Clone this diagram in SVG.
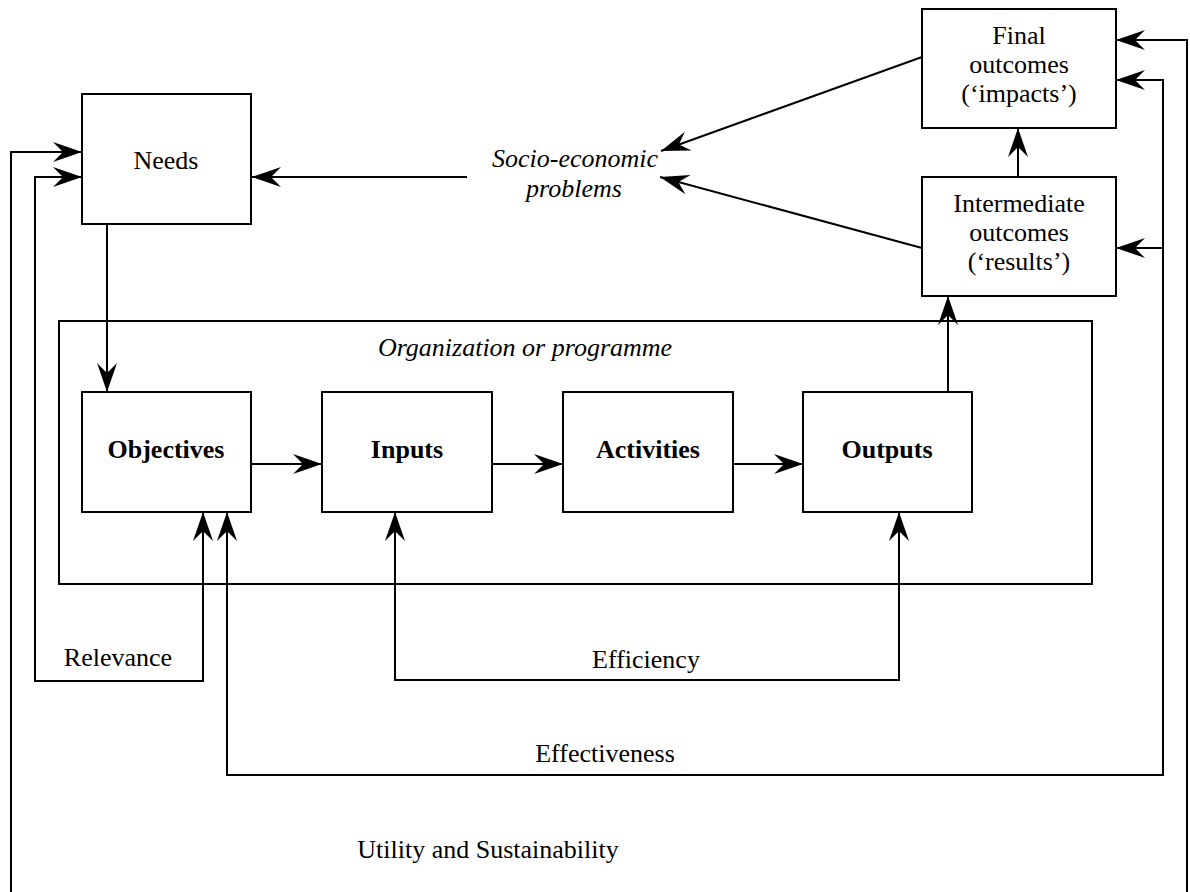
<svg xmlns="http://www.w3.org/2000/svg" width="1190" height="892" viewBox="0 0 1190 892">
<style>
.box{fill:#fff;stroke:#000;stroke-width:2}
.frame{fill:none;stroke:#000;stroke-width:2}
.ln{fill:none;stroke:#000;stroke-width:2}
.t{font-family:"Liberation Serif","Times New Roman",serif;font-size:26px;fill:#000;text-anchor:middle}
.b{font-weight:bold}
.i{font-style:italic}
</style>
<defs>
<marker id="ah" markerUnits="userSpaceOnUse" viewBox="-30 -11 31 22" refX="0" refY="0" markerWidth="31" markerHeight="22" orient="auto">
<path d="M0,0 L-29,-10 L-19,0 L-29,10 Z" fill="#000"/>
</marker>
</defs>
<rect width="1190" height="892" fill="#fff"/>

<g id="organization">
<rect class="frame" x="59" y="321" width="1033" height="263"/>
<text class="t i" x="525" y="356">Organization or programme</text>
</g>

<g id="connectors">
<!-- Needs to Objectives -->
<path class="ln" d="M107,224 V392" marker-end="url(#ah)"/>
<!-- chain -->
<path class="ln" d="M251,464 H322" marker-end="url(#ah)"/>
<path class="ln" d="M492,464 H563" marker-end="url(#ah)"/>
<path class="ln" d="M733,464 H803" marker-end="url(#ah)"/>
<!-- Outputs to Intermediate -->
<path class="ln" d="M948,392 V296" marker-end="url(#ah)"/>
<!-- Intermediate to Final -->
<path class="ln" d="M1018,177 V128" marker-end="url(#ah)"/>
<!-- outcomes to socio-economic problems -->
<path class="ln" d="M922,57 L661,151" marker-end="url(#ah)"/>
<path class="ln" d="M922,248 L660,177" marker-end="url(#ah)"/>
<!-- socio-economic problems to Needs -->
<path class="ln" d="M467,177 H252" marker-end="url(#ah)"/>
<!-- Relevance -->
<path class="ln" d="M82,177 H35 V681 H203 V512"/>
<path class="ln" d="M203,560 V512" marker-end="url(#ah)"/>
<path class="ln" d="M40,177 H82" marker-end="url(#ah)"/>
<!-- Efficiency -->
<path class="ln" d="M395,512 V680 H899 V512"/>
<path class="ln" d="M395,560 V512" marker-end="url(#ah)"/>
<path class="ln" d="M899,560 V512" marker-end="url(#ah)"/>
<!-- Effectiveness -->
<path class="ln" d="M227,512 V775 H1163 V80 H1116"/>
<path class="ln" d="M227,560 V512" marker-end="url(#ah)"/>
<path class="ln" d="M1160,80 H1116" marker-end="url(#ah)"/>
<path class="ln" d="M1163,248 H1116" marker-end="url(#ah)"/>
<!-- Utility and Sustainability -->
<path class="ln" d="M82,152 H11 V892"/>
<path class="ln" d="M20,152 H82" marker-end="url(#ah)"/>
<path class="ln" d="M1187,892 V40 H1116"/>
<path class="ln" d="M1180,40 H1116" marker-end="url(#ah)"/>
</g>

<g id="needs">
<rect class="box" x="82" y="94" width="169" height="130"/>
<text class="t" x="166" y="169">Needs</text>
</g>

<g id="socio-economic-problems">
<text class="t i" x="575" y="167">Socio-economic</text>
<text class="t i" x="574" y="197">problems</text>
</g>

<g id="final-outcomes">
<rect class="box" x="922" y="9" width="194" height="119"/>
<text class="t" x="1019" y="44">Final</text>
<text class="t" x="1019" y="73">outcomes</text>
<text class="t" x="1019" y="102">(‘impacts’)</text>
</g>

<g id="intermediate-outcomes">
<rect class="box" x="922" y="177" width="194" height="119"/>
<text class="t" x="1019" y="212">Intermediate</text>
<text class="t" x="1019" y="241">outcomes</text>
<text class="t" x="1019" y="270">(‘results’)</text>
</g>

<g id="objectives">
<rect class="box" x="82" y="392" width="169" height="120"/>
<text class="t b" x="166" y="458">Objectives</text>
</g>

<g id="inputs">
<rect class="box" x="322" y="392" width="170" height="120"/>
<text class="t b" x="407" y="458">Inputs</text>
</g>

<g id="activities">
<rect class="box" x="563" y="392" width="170" height="120"/>
<text class="t b" x="648" y="458">Activities</text>
</g>

<g id="outputs">
<rect class="box" x="803" y="392" width="169" height="120"/>
<text class="t b" x="887" y="458">Outputs</text>
</g>

<g id="labels">
<text class="t" x="118" y="666">Relevance</text>
<text class="t" x="646" y="668">Efficiency</text>
<text class="t" x="605" y="762">Effectiveness</text>
<text class="t" x="488" y="858">Utility and Sustainability</text>
</g>
</svg>
